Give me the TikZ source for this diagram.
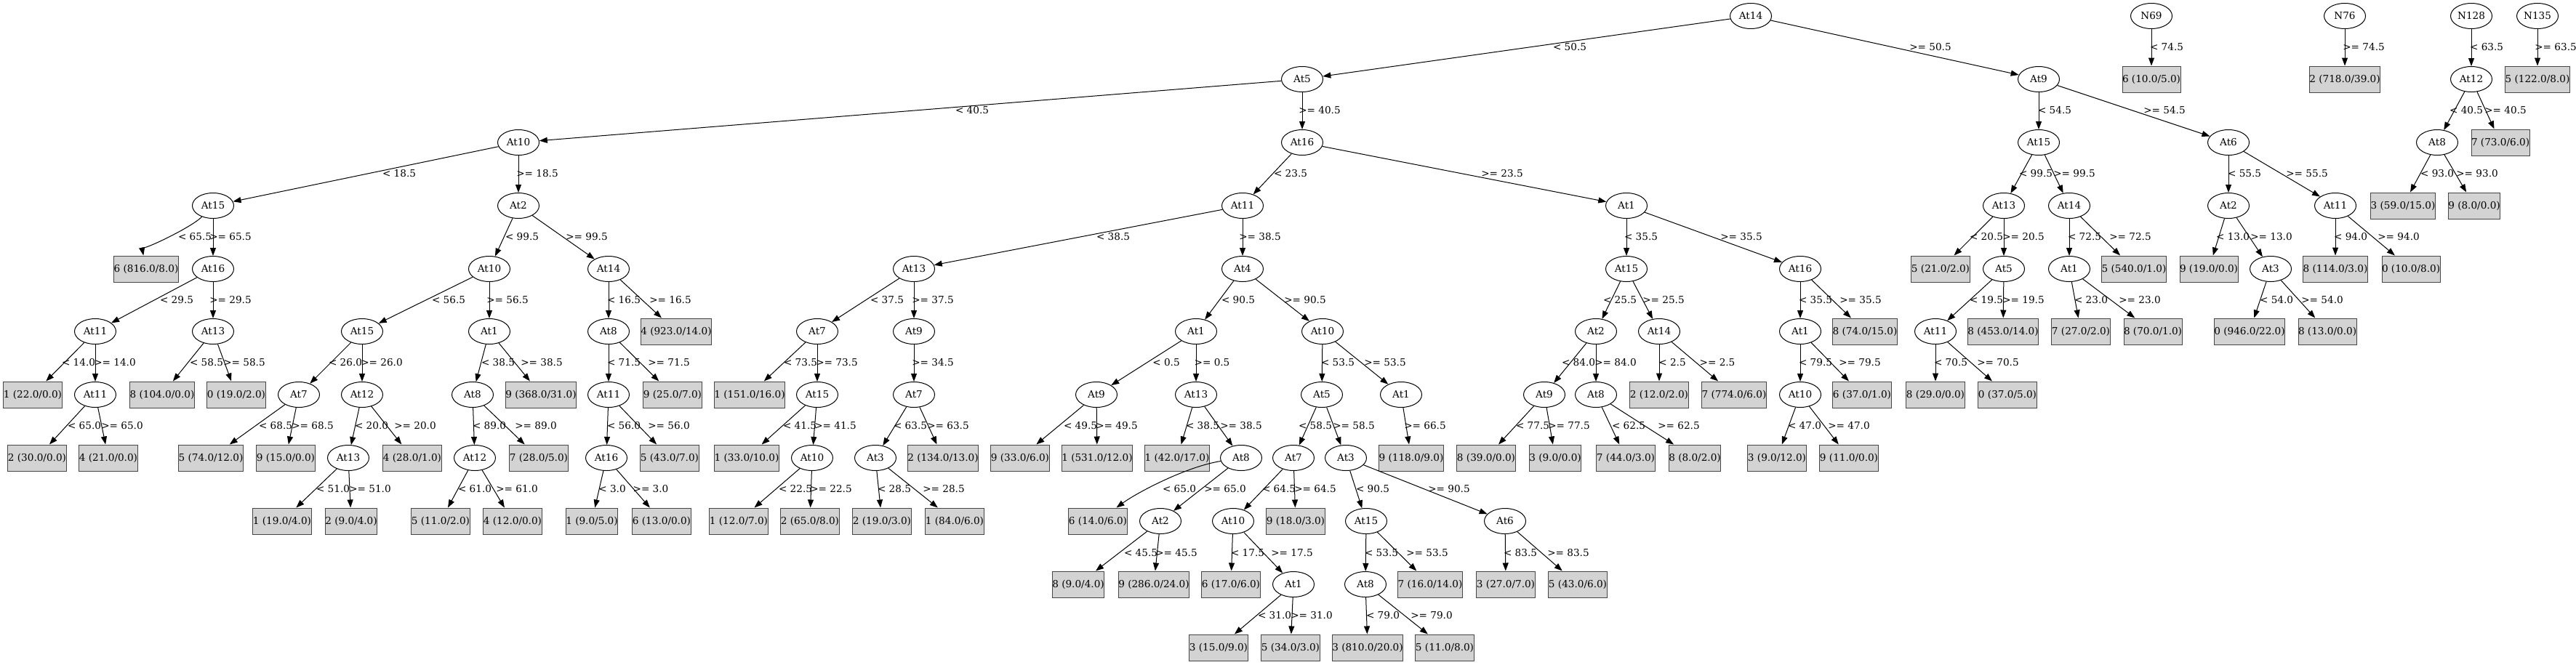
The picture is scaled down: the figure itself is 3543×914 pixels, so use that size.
\documentclass[tikz,border=0pt]{standalone}
\usepackage{fontspec}
\setmainfont{DejaVu Serif}
\usetikzlibrary{arrows.meta,shapes.geometric}
\definecolor{leafgray}{RGB}{211,211,211}
\definecolor{leafline}{RGB}{70,70,70}
\tikzset{every picture/.style={line width=1pt}}
\tikzset{
  attr/.style={ellipse, draw, minimum width=57pt, minimum height=35pt, inner sep=0pt},
  leaf/.style={rectangle, draw=leafline, fill=leafgray, minimum height=36pt, inner xsep=0pt, inner ysep=0pt},
  branch/.style={-{Triangle[length=11pt,width=8pt]}},
  cond/.style={inner sep=0pt}
}

\begin{document}
\begin{tikzpicture}[x=1pt,y=1pt,yscale=-1,xscale=1,font=\fontsize{13.6}{16}\selectfont]
\useasboundingbox (0,0) rectangle (3543,914);

%Shape: Ellipse -- main tree, left part
\node [attr] (r) at (2408,22) {At14};
\node [attr] (a5) at (1791,109) {At5};
\node [attr] (a10) at (713,196) {At10};
\node [attr] (a15) at (293,283) {At15};
\node [leaf] (f1) at (201,370) {6 (816.0/8.0)};
\node [attr] (a16) at (293,370) {At16};
\node [attr] (a11) at (131,456) {At11};
\node [leaf] (f2) at (45,543) {1 (22.0/0.0)};
\node [attr] (a11b) at (131,543) {At11};
\node [leaf] (f3) at (51,630) {2 (30.0/0.0)};
\node [leaf] (f4) at (149,630) {4 (21.0/0.0)};
\node [attr] (a13) at (293,456) {At13};
\node [leaf] (f5) at (223,543) {8 (104.0/0.0)};
\node [leaf] (f6) at (325,543) {0 (19.0/2.0)};
\node [attr] (a2) at (713,283) {At2};
\node [attr] (a10b) at (673,370) {At10};
\node [attr] (a15b) at (498,456) {At15};
\node [attr] (a7) at (411,543) {At7};
\node [leaf] (f7) at (290,630) {5 (74.0/12.0)};
\node [leaf] (f8) at (393,630) {9 (15.0/0.0)};
\node [attr] (a12) at (498,543) {At12};
\node [attr] (a13b) at (479,630) {At13};
\node [leaf] (f9) at (388,717) {1 (19.0/4.0)};
\node [leaf] (f10) at (483,717) {2 (9.0/4.0)};
\node [leaf] (f11) at (567,630) {4 (28.0/1.0)};
\node [attr] (a1) at (673,456) {At1};
\node [attr] (a8) at (650,543) {At8};
\node [attr] (a12b) at (653,630) {At12};
\node [leaf] (f12) at (606,717) {5 (11.0/2.0)};
\node [leaf] (f13) at (705,717) {4 (12.0/0.0)};
\node [leaf] (f14) at (741,630) {7 (28.0/5.0)};
\node [leaf] (f15) at (744,543) {9 (368.0/31.0)};
\node [attr] (a14) at (837,370) {At14};
\node [attr] (a8b) at (837,456) {At8};
\node [attr] (a11c) at (837,543) {At11};
\node [attr] (a16b) at (834,630) {At16};
\node [leaf] (f16) at (814,717) {1 (9.0/5.0)};
\node [leaf] (f17) at (910,717) {6 (13.0/0.0)};
\node [leaf] (f18) at (921,630) {5 (43.0/7.0)};
\node [leaf] (f19) at (925,543) {9 (25.0/7.0)};
\node [leaf] (f20) at (930,456) {4 (923.0/14.0)};

%Shape: Ellipse -- main tree, middle part
\node [attr] (a16c) at (1791,196) {At16};
\node [attr] (a11d) at (1709,283) {At11};
\node [attr] (a13c) at (1257,370) {At13};
\node [attr] (a7b) at (1124,456) {At7};
\node [leaf] (f21) at (1031,543) {1 (151.0/16.0)};
\node [attr] (a15c) at (1124,543) {At15};
\node [leaf] (f22) at (1027,630) {1 (33.0/10.0)};
\node [attr] (a10c) at (1117,630) {At10};
\node [leaf] (f23) at (1016,717) {1 (12.0/7.0)};
\node [leaf] (f24) at (1114,717) {2 (65.0/8.0)};
\node [attr] (a9) at (1257,456) {At9};
\node [attr] (a7c) at (1257,543) {At7};
\node [attr] (a3) at (1204,630) {At3};
\node [leaf] (f25) at (1213,717) {2 (19.0/3.0)};
\node [leaf] (f26) at (1313,717) {1 (84.0/6.0)};
\node [leaf] (f27) at (1297,630) {2 (134.0/13.0)};
\node [attr] (a4) at (1709,370) {At4};
\node [attr] (a1b) at (1645,456) {At1};
\node [attr] (a9b) at (1508,543) {At9};
\node [leaf] (f28) at (1403,630) {9 (33.0/6.0)};
\node [leaf] (f29) at (1509,630) {1 (531.0/12.0)};
\node [attr] (a13d) at (1645,543) {At13};
\node [leaf] (f30) at (1619,630) {1 (42.0/17.0)};
\node [attr] (a8c) at (1707,630) {At8};
\node [leaf] (f31) at (1510,717) {6 (14.0/6.0)};
\node [attr] (a2b) at (1596,717) {At2};
\node [leaf] (f32) at (1483,804) {8 (9.0/4.0)};
\node [leaf] (f33) at (1587,804) {9 (286.0/24.0)};
\node [attr] (a10d) at (1819,456) {At10};
\node [attr] (a5b) at (1818,543) {At5};
\node [attr] (a7d) at (1779,630) {At7};
\node [attr] (a10e) at (1696,717) {At10};
\node [leaf] (f34) at (1693,804) {6 (17.0/6.0)};
\node [attr] (a1c) at (1779,804) {At1};
\node [leaf] (f35) at (1676,891) {3 (15.0/9.0)};
\node [leaf] (f36) at (1775,891) {5 (34.0/3.0)};
\node [leaf] (f37) at (1782,717) {9 (18.0/3.0)};
\node [attr] (a3b) at (1851,630) {At3};
\node [attr] (a15d) at (1879,717) {At15};
\node [attr] (a8d) at (1878,804) {At8};
\node [leaf] (f38) at (1881,891) {3 (810.0/20.0)};
\node [leaf] (f39) at (1987,891) {5 (11.0/8.0)};
\node [leaf] (f40) at (1967,804) {7 (16.0/14.0)};
\node [attr] (a6) at (2070,717) {At6};
\node [leaf] (f41) at (2071,804) {3 (27.0/7.0)};
\node [leaf] (f42) at (2170,804) {5 (43.0/6.0)};
\node [attr] (a1d) at (1927,543) {At1};
\node [leaf] (f43) at (1941,630) {9 (118.0/9.0)};
\node [attr] (a1e) at (2237,283) {At1};
\node [attr] (a15e) at (2237,370) {At15};
\node [attr] (a2c) at (2195,456) {At2};
\node [attr] (a9c) at (2124,543) {At9};
\node [leaf] (f44) at (2044,630) {8 (39.0/0.0)};
\node [leaf] (f45) at (2139,630) {3 (9.0/0.0)};
\node [attr] (a8e) at (2195,543) {At8};
\node [leaf] (f46) at (2236,630) {7 (44.0/3.0)};
\node [leaf] (f47) at (2331,630) {8 (8.0/2.0)};
\node [attr] (a14b) at (2282,456) {At14};
\node [leaf] (f48) at (2282,543) {2 (12.0/2.0)};
\node [leaf] (f49) at (2385,543) {7 (774.0/6.0)};
\node [attr] (a16d) at (2476,370) {At16};
\node [attr] (a1f) at (2476,456) {At1};
\node [attr] (a10f) at (2476,543) {At10};
\node [leaf] (f50) at (2444,630) {3 (9.0/12.0)};
\node [leaf] (f51) at (2543,630) {9 (11.0/0.0)};
\node [leaf] (f52) at (2561,543) {6 (37.0/1.0)};
\node [leaf] (f53) at (2565,456) {8 (74.0/15.0)};

%Shape: Ellipse -- main tree, right part
\node [attr] (a9d) at (2804,109) {At9};
\node [attr] (a15f) at (2804,196) {At15};
\node [attr] (a13e) at (2756,283) {At13};
\node [leaf] (f54) at (2669,370) {5 (21.0/2.0)};
\node [attr] (a5c) at (2756,370) {At5};
\node [attr] (a11e) at (2662,456) {At11};
\node [leaf] (f55) at (2662,543) {8 (29.0/0.0)};
\node [leaf] (f56) at (2761,543) {0 (37.0/5.0)};
\node [leaf] (f57) at (2755,456) {8 (453.0/14.0)};
\node [attr] (a14c) at (2846,283) {At14};
\node [attr] (a1g) at (2846,370) {At1};
\node [leaf] (f58) at (2862,456) {7 (27.0/2.0)};
\node [leaf] (f59) at (2961,456) {8 (70.0/1.0)};
\node [leaf] (f60) at (2935,370) {5 (540.0/1.0)};
\node [attr] (a6b) at (3065,196) {At6};
\node [attr] (a2d) at (3065,283) {At2};
\node [leaf] (f61) at (3038,370) {9 (19.0/0.0)};
\node [attr] (a3c) at (3123,370) {At3};
\node [leaf] (f62) at (3094,456) {0 (946.0/22.0)};
\node [leaf] (f63) at (3201,456) {8 (13.0/0.0)};
\node [attr] (a11f) at (3212,283) {At11};
\node [leaf] (f64) at (3212,370) {8 (114.0/3.0)};
\node [leaf] (f65) at (3316,370) {0 (10.0/8.0)};

%Shape: Ellipse -- small trees
\node [attr] (n69) at (2959,22) {N69};
\node [leaf] (f66) at (2959,109) {6 (10.0/5.0)};
\node [attr] (n76) at (3225,22) {N76};
\node [leaf] (f67) at (3225,109) {2 (718.0/39.0)};
\node [attr] (n128) at (3399,22) {N128};
\node [attr] (a12c) at (3399,109) {At12};
\node [attr] (a8f) at (3352,196) {At8};
\node [leaf] (f68) at (3305,283) {3 (59.0/15.0)};
\node [leaf] (f69) at (3403,283) {9 (8.0/0.0)};
\node [leaf] (f70) at (3439,196) {7 (73.0/6.0)};
\node [attr] (n135) at (3490,22) {N135};
\node [leaf] (f71) at (3490,109) {5 (122.0/8.0)};

%Straight Lines + Text Node -- main tree, left part
\draw [branch] (r) -- (a5);   \node [cond] (c1) at (2159,65) {< 50.5};
\draw [branch] (r) -- (a9d);  \node [cond] (c2) at (2655,65) {>= 50.5};
\draw [branch] (a5) -- (a10); \node [cond] (c3) at (1337,152) {< 40.5};
\draw [branch] (a5) -- (a16c); \node [cond] (c4) at (1815,152) {>= 40.5};
\draw [branch] (a10) -- (a15); \node [cond] (c5) at (549,239) {< 18.5};
\draw [branch] (a10) -- (a2); \node [cond] (c6) at (739,239) {>= 18.5};
\draw [branch] (a15) .. controls +(-30,30) and +(-5,-25) .. (f1); \node [cond] (c7) at (268,326) {< 65.5};
\draw [branch] (a15) -- (a16); \node [cond] (c8) at (317,326) {>= 65.5};
\draw [branch] (a16) -- (a11); \node [cond] (c9) at (243,413) {< 29.5};
\draw [branch] (a16) -- (a13); \node [cond] (c10) at (317,413) {>= 29.5};
\draw [branch] (a11) -- (f2); \node [cond] (c11) at (108,499) {< 14.0};
\draw [branch] (a11) -- (a11b); \node [cond] (c12) at (158,499) {>= 14.0};
\draw [branch] (a11b) -- (f3); \node [cond] (c13) at (116,586) {< 65.0};
\draw [branch] (a11b) -- (f4); \node [cond] (c14) at (168,586) {>= 65.0};
\draw [branch] (a13) -- (f5); \node [cond] (c15) at (284,499) {< 58.5};
\draw [branch] (a13) -- (f6); \node [cond] (c16) at (336,499) {>= 58.5};
\draw [branch] (a2) -- (a10b); \node [cond] (c17) at (718,326) {< 99.5};
\draw [branch] (a2) -- (a14); \node [cond] (c18) at (807,326) {>= 99.5};
\draw [branch] (a10b) -- (a15b); \node [cond] (c19) at (617,413) {< 56.5};
\draw [branch] (a10b) -- (a1); \node [cond] (c20) at (698,413) {>= 56.5};
\draw [branch] (a15b) -- (a7); \node [cond] (c21) at (475,499) {< 26.0};
\draw [branch] (a15b) -- (a12); \node [cond] (c22) at (525,499) {>= 26.0};
\draw [branch] (a7) -- (f7); \node [cond] (c23) at (379,586) {< 68.5};
\draw [branch] (a7) -- (f8); \node [cond] (c24) at (430,586) {>= 68.5};
\draw [branch] (a12) -- (a13b); \node [cond] (c25) at (511,586) {< 20.0};
\draw [branch] (a12) -- (f11); \node [cond] (c26) at (571,586) {>= 20.0};
\draw [branch] (a13b) -- (f9); \node [cond] (c27) at (458,673) {< 51.0};
\draw [branch] (a13b) -- (f10); \node [cond] (c28) at (509,673) {>= 51.0};
\draw [branch] (a1) -- (a8); \node [cond] (c29) at (685,499) {< 38.5};
\draw [branch] (a1) -- (f15); \node [cond] (c30) at (745,499) {>= 38.5};
\draw [branch] (a8) -- (a12b); \node [cond] (c31) at (673,586) {< 89.0};
\draw [branch] (a8) -- (f14); \node [cond] (c32) at (737,586) {>= 89.0};
\draw [branch] (a12b) -- (f12); \node [cond] (c33) at (653,673) {< 61.0};
\draw [branch] (a12b) -- (f13); \node [cond] (c34) at (711,673) {>= 61.0};
\draw [branch] (a14) -- (a8b); \node [cond] (c35) at (858,413) {< 16.5};
\draw [branch] (a14) -- (f20); \node [cond] (c36) at (922,413) {>= 16.5};
\draw [branch] (a8b) -- (a11c); \node [cond] (c37) at (858,499) {< 71.5};
\draw [branch] (a8b) -- (f19); \node [cond] (c38) at (920,499) {>= 71.5};
\draw [branch] (a11c) -- (a16b); \node [cond] (c39) at (858,586) {< 56.0};
\draw [branch] (a11c) -- (f18); \node [cond] (c40) at (920,586) {>= 56.0};
\draw [branch] (a16b) -- (f16); \node [cond] (c41) at (842,673) {< 3.0};
\draw [branch] (a16b) -- (f17); \node [cond] (c42) at (895,673) {>= 3.0};

%Straight Lines + Text Node -- main tree, middle part
\draw [branch] (a16c) -- (a11d); \node [cond] (c43) at (1775,239) {< 23.5};
\draw [branch] (a16c) -- (a1e); \node [cond] (c44) at (2066,239) {>= 23.5};
\draw [branch] (a11d) -- (a13c); \node [cond] (c45) at (1531,326) {< 38.5};
\draw [branch] (a11d) -- (a4); \node [cond] (c46) at (1733,326) {>= 38.5};
\draw [branch] (a13c) -- (a7b); \node [cond] (c47) at (1220,413) {< 37.5};
\draw [branch] (a13c) -- (a9); \node [cond] (c48) at (1283,413) {>= 37.5};
\draw [branch] (a7b) -- (f21); \node [cond] (c49) at (1101,499) {< 73.5};
\draw [branch] (a7b) -- (a15c); \node [cond] (c50) at (1151,499) {>= 73.5};
\draw [branch] (a15c) -- (f22); \node [cond] (c51) at (1100,586) {< 41.5};
\draw [branch] (a15c) -- (a10c); \node [cond] (c52) at (1149,586) {>= 41.5};
\draw [branch] (a10c) -- (f23); \node [cond] (c53) at (1094,673) {< 22.5};
\draw [branch] (a10c) -- (f24); \node [cond] (c54) at (1143,673) {>= 22.5};
\draw [branch] (a9) -- (a7c); \node [cond] (c55) at (1283,499) {>= 34.5};
\draw [branch] (a7c) -- (a3); \node [cond] (c56) at (1252,586) {< 63.5};
\draw [branch] (a7c) -- (f27); \node [cond] (c57) at (1304,586) {>= 63.5};
\draw [branch] (a3) -- (f25); \node [cond] (c58) at (1230,673) {< 28.5};
\draw [branch] (a3) -- (f26); \node [cond] (c59) at (1298,673) {>= 28.5};
\draw [branch] (a4) -- (a1b); \node [cond] (c60) at (1703,413) {< 90.5};
\draw [branch] (a4) -- (a10d); \node [cond] (c61) at (1795,413) {>= 90.5};
\draw [branch] (a1b) -- (a9b); \node [cond] (c62) at (1604,499) {< 0.5};
\draw [branch] (a1b) -- (a13d); \node [cond] (c63) at (1667,499) {>= 0.5};
\draw [branch] (a9b) -- (f28); \node [cond] (c64) at (1486,586) {< 49.5};
\draw [branch] (a9b) -- (f29); \node [cond] (c65) at (1536,586) {>= 49.5};
\draw [branch] (a13d) -- (f30); \node [cond] (c66) at (1654,586) {< 38.5};
\draw [branch] (a13d) -- (a8c); \node [cond] (c67) at (1707,586) {>= 38.5};
\draw [branch] (a8c) .. controls +(-75,12) and +(55,-40) .. (f31); \node [cond] (c68) at (1622,673) {< 65.0};
\draw [branch] (a8c) -- (a2b); \node [cond] (c69) at (1685,673) {>= 65.0};
\draw [branch] (a2b) -- (f32); \node [cond] (c70) at (1569,761) {< 45.5};
\draw [branch] (a2b) -- (f33); \node [cond] (c71) at (1618,761) {>= 45.5};
\draw [branch] (a10d) -- (a5b); \node [cond] (c72) at (1840,499) {< 53.5};
\draw [branch] (a10d) -- (a1d); \node [cond] (c73) at (1905,499) {>= 53.5};
\draw [branch] (a5b) -- (a7d); \node [cond] (c74) at (1809,586) {< 58.5};
\draw [branch] (a5b) -- (a3b); \node [cond] (c75) at (1862,586) {>= 58.5};
\draw [branch] (a7d) -- (a10e); \node [cond] (c76) at (1759,673) {< 64.5};
\draw [branch] (a7d) -- (f37); \node [cond] (c77) at (1809,673) {>= 64.5};
\draw [branch] (a10e) -- (f34); \node [cond] (c78) at (1716,761) {< 17.5};
\draw [branch] (a10e) -- (a1c); \node [cond] (c79) at (1777,761) {>= 17.5};
\draw [branch] (a1c) -- (f35); \node [cond] (c80) at (1753,847) {< 31.0};
\draw [branch] (a1c) -- (f36); \node [cond] (c81) at (1804,847) {>= 31.0};
\draw [branch] (a3b) -- (a15d); \node [cond] (c82) at (1888,673) {< 90.5};
\draw [branch] (a3b) -- (a6); \node [cond] (c83) at (1993,673) {>= 90.5};
\draw [branch] (a15d) -- (a8d); \node [cond] (c84) at (1900,761) {< 53.5};
\draw [branch] (a15d) -- (f40); \node [cond] (c85) at (1963,761) {>= 53.5};
\draw [branch] (a8d) -- (f38); \node [cond] (c86) at (1902,847) {< 79.0};
\draw [branch] (a8d) -- (f39); \node [cond] (c87) at (1969,847) {>= 79.0};
\draw [branch] (a6) -- (f41); \node [cond] (c88) at (2091,761) {< 83.5};
\draw [branch] (a6) -- (f42); \node [cond] (c89) at (2157,761) {>= 83.5};
\draw [branch] (a1d) -- (f43); \node [cond] (c90) at (1960,586) {>= 66.5};
\draw [branch] (a1e) -- (a15e); \node [cond] (c91) at (2257,326) {< 35.5};
\draw [branch] (a1e) -- (a16d); \node [cond] (c92) at (2395,326) {>= 35.5};
\draw [branch] (a15e) -- (a2c); \node [cond] (c93) at (2228,413) {< 25.5};
\draw [branch] (a15e) -- (a14b); \node [cond] (c94) at (2288,413) {>= 25.5};
\draw [branch] (a2c) -- (a9c); \node [cond] (c95) at (2171,499) {< 84.0};
\draw [branch] (a2c) -- (a8e); \node [cond] (c96) at (2222,499) {>= 84.0};
\draw [branch] (a9c) -- (f44); \node [cond] (c97) at (2108,586) {< 77.5};
\draw [branch] (a9c) -- (f45); \node [cond] (c98) at (2158,586) {>= 77.5};
\draw [branch] (a8e) -- (f46); \node [cond] (c99) at (2240,586) {< 62.5};
\draw [branch] (a8e) -- (f47); \node [cond] (c100) at (2309,586) {>= 62.5};
\draw [branch] (a14b) -- (f48); \node [cond] (c101) at (2300,499) {< 2.5};
\draw [branch] (a14b) -- (f49); \node [cond] (c102) at (2362,499) {>= 2.5};
\draw [branch] (a16d) -- (a1f); \node [cond] (c103) at (2497,413) {< 35.5};
\draw [branch] (a16d) -- (f53); \node [cond] (c104) at (2559,413) {>= 35.5};
\draw [branch] (a1f) -- (a10f); \node [cond] (c105) at (2497,499) {< 79.5};
\draw [branch] (a1f) -- (f52); \node [cond] (c106) at (2558,499) {>= 79.5};
\draw [branch] (a10f) -- (f50); \node [cond] (c107) at (2482,586) {< 47.0};
\draw [branch] (a10f) -- (f51); \node [cond] (c108) at (2543,586) {>= 47.0};

%Straight Lines + Text Node -- main tree, right part
\draw [branch] (a9d) -- (a15f); \node [cond] (c109) at (2826,152) {< 54.5};
\draw [branch] (a9d) -- (a6b); \node [cond] (c110) at (2977,152) {>= 54.5};
\draw [branch] (a15f) -- (a13e); \node [cond] (c111) at (2800,239) {< 99.5};
\draw [branch] (a15f) -- (a14c); \node [cond] (c112) at (2853,239) {>= 99.5};
\draw [branch] (a13e) -- (f54); \node [cond] (c113) at (2732,326) {< 20.5};
\draw [branch] (a13e) -- (a5c); \node [cond] (c114) at (2783,326) {>= 20.5};
\draw [branch] (a5c) -- (a11e); \node [cond] (c115) at (2732,413) {< 19.5};
\draw [branch] (a5c) -- (f57); \node [cond] (c116) at (2783,413) {>= 19.5};
\draw [branch] (a11e) -- (f55); \node [cond] (c117) at (2683,499) {< 70.5};
\draw [branch] (a11e) -- (f56); \node [cond] (c118) at (2748,499) {>= 70.5};
\draw [branch] (a14c) -- (a1g); \node [cond] (c119) at (2867,326) {< 72.5};
\draw [branch] (a14c) -- (f60); \node [cond] (c120) at (2930,326) {>= 72.5};
\draw [branch] (a1g) -- (f58); \node [cond] (c121) at (2876,413) {< 23.0};
\draw [branch] (a1g) -- (f59); \node [cond] (c122) at (2943,413) {>= 23.0};
\draw [branch] (a6b) -- (a2d); \node [cond] (c123) at (3087,239) {< 55.5};
\draw [branch] (a6b) -- (a11f); \node [cond] (c124) at (3173,239) {>= 55.5};
\draw [branch] (a2d) -- (f61); \node [cond] (c125) at (3071,326) {< 13.0};
\draw [branch] (a2d) -- (a3c); \node [cond] (c126) at (3124,326) {>= 13.0};
\draw [branch] (a3c) -- (f62); \node [cond] (c127) at (3131,413) {< 54.0};
\draw [branch] (a3c) -- (f63); \node [cond] (c128) at (3194,413) {>= 54.0};
\draw [branch] (a11f) -- (f64); \node [cond] (c129) at (3233,326) {< 94.0};
\draw [branch] (a11f) -- (f65); \node [cond] (c130) at (3299,326) {>= 94.0};

%Straight Lines + Text Node -- small trees
\draw [branch] (n69) -- (f66); \node [cond] (c131) at (2980,65) {< 74.5};
\draw [branch] (n76) -- (f67); \node [cond] (c132) at (3251,65) {>= 74.5};
\draw [branch] (n128) -- (a12c); \node [cond] (c133) at (3420,65) {< 63.5};
\draw [branch] (a12c) -- (a8f); \node [cond] (c134) at (3392,152) {< 40.5};
\draw [branch] (a12c) -- (f70); \node [cond] (c135) at (3446,152) {>= 40.5};
\draw [branch] (a8f) -- (f68); \node [cond] (c136) at (3352,239) {< 93.0};
\draw [branch] (a8f) -- (f69); \node [cond] (c137) at (3407,239) {>= 93.0};
\draw [branch] (n135) -- (f71); \node [cond] (c138) at (3515,65) {>= 63.5};

\end{tikzpicture}
\end{document}
